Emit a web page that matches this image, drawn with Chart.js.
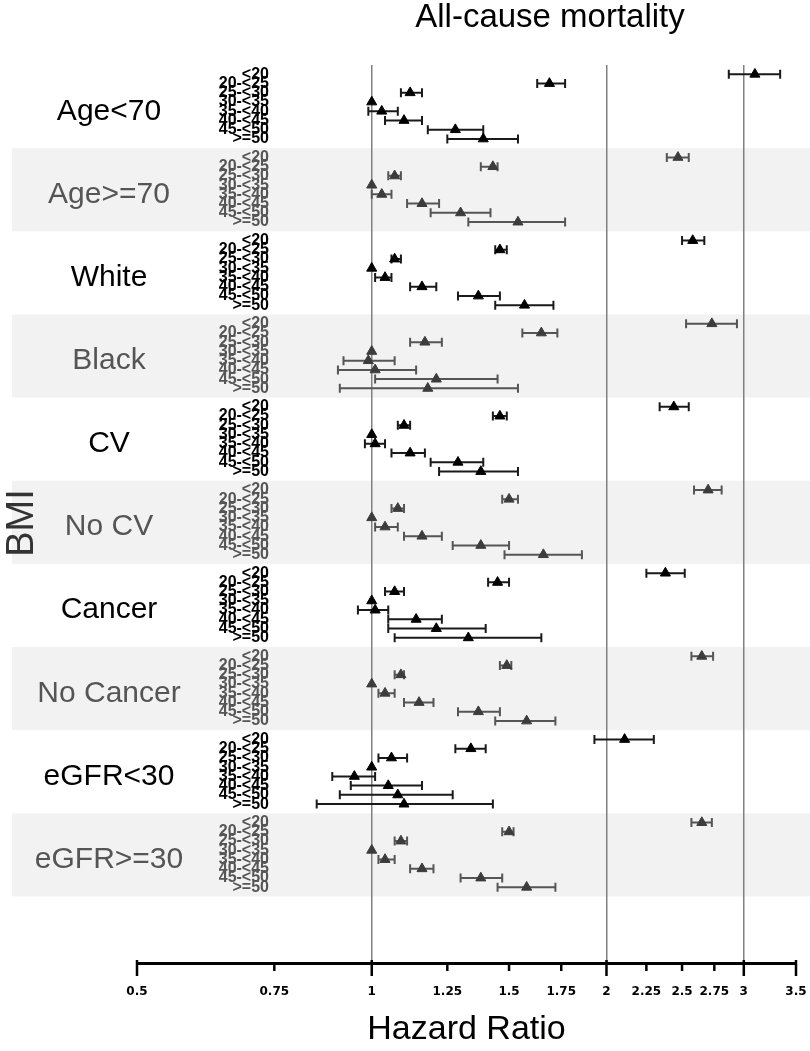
<!DOCTYPE html>
<html lang="en">
<head>
  <meta charset="UTF-8">
  <title>All-cause mortality</title>
  <script src="https://cdn.jsdelivr.net/npm/chart.js"></script>
  <style>
    body {
      margin: 0;
      background: #fff;
    }
    canvas {
      display: block;
    }
  </style>
</head>
<body>
  <canvas id="forestChart" width="810" height="1051"></canvas>
  <script>
    // subgroups (top to bottom) and BMI categories inside each subgroup
    const subgroups = ['Age<70', 'Age>=70', 'White', 'Black', 'CV', 'No CV', 'Cancer', 'No Cancer', 'eGFR<30', 'eGFR>=30'];
    const bmiCategories = ['<20', '20-<25', '25-<30', '30-<35', '35-<40', '40-<45', '45-<50', '>=50'];

    // hazard ratios, one row per subgroup (30-<35 is the reference)
    const hazardRatio = [
      [3.10, 1.69, 1.12, 1, 1.03, 1.10, 1.28, 1.39],   // Age<70
      [2.47, 1.43, 1.07, 1, 1.03, 1.16, 1.30, 1.54],   // Age>=70
      [2.58, 1.46, 1.07, 1, 1.04, 1.16, 1.37, 1.57],   // White
      [2.73, 1.65, 1.17, 1, 0.99, 1.01, 1.21, 1.18],   // Black
      [2.44, 1.46, 1.10, 1, 1.01, 1.12, 1.29, 1.38],   // CV
      [2.70, 1.50, 1.08, 1, 1.04, 1.16, 1.38, 1.66],   // No CV
      [2.38, 1.45, 1.07, 1, 1.01, 1.14, 1.21, 1.33],   // Cancer
      [2.65, 1.49, 1.09, 1, 1.04, 1.15, 1.37, 1.58],   // No Cancer
      [2.11, 1.34, 1.06, 1, 0.95, 1.05, 1.08, 1.10],   // eGFR<30
      [2.65, 1.50, 1.09, 1, 1.04, 1.16, 1.38, 1.58]    // eGFR>=30
    ];
    const ciLow = [
      [2.87, 1.63, 1.09, null, 0.99, 1.04, 1.18, 1.25],
      [2.39, 1.38, 1.05, null, 1.00, 1.11, 1.19, 1.33],
      [2.50, 1.44, 1.06, null, 1.01, 1.12, 1.29, 1.44],
      [2.53, 1.56, 1.12, null, 0.92, 0.905, 1.01, 0.91],
      [2.34, 1.43, 1.08, null, 0.98, 1.06, 1.19, 1.22],
      [2.59, 1.47, 1.06, null, 1.01, 1.10, 1.27, 1.48],
      [2.25, 1.41, 1.04, null, 0.96, 1.05, 1.05, 1.07],
      [2.57, 1.46, 1.07, null, 1.02, 1.10, 1.29, 1.44],
      [1.93, 1.28, 1.02, null, 0.89, 0.94, 0.91, 0.85],
      [2.57, 1.47, 1.07, null, 1.02, 1.12, 1.30, 1.45]
    ];
    const ciHigh = [
      [3.34, 1.77, 1.16, null, 1.08, 1.16, 1.39, 1.54],
      [2.55, 1.45, 1.09, null, 1.06, 1.22, 1.42, 1.77],
      [2.67, 1.49, 1.09, null, 1.06, 1.21, 1.46, 1.71],
      [2.94, 1.73, 1.23, null, 1.07, 1.14, 1.45, 1.54],
      [2.55, 1.49, 1.12, null, 1.04, 1.17, 1.39, 1.54],
      [2.81, 1.54, 1.10, null, 1.08, 1.23, 1.50, 1.86],
      [2.52, 1.50, 1.10, null, 1.05, 1.23, 1.40, 1.65],
      [2.74, 1.51, 1.10, null, 1.07, 1.20, 1.46, 1.72],
      [2.30, 1.40, 1.11, null, 1.01, 1.16, 1.27, 1.43],
      [2.73, 1.52, 1.11, null, 1.07, 1.20, 1.47, 1.72]
    ];

    // x axis ticks
    const tickValues = [0.5, 0.75, 1, 1.25, 1.5, 1.75, 2, 2.25, 2.5, 2.75, 3, 3.5];
    const tickLabels = ['0.5', '0.75', '1', '1.25', '1.5', '1.75', '2', '2.25', '2.5', '2.75', '3', '3.5'];
    const majorTicks = [0.5, 1, 2, 3, 3.5];
    const refLines = [1, 2, 3];

    const SLOTS = 9; // 8 rows + 1 gap per subgroup
    const rowPos = (g, i) => g * SLOTS + 1 + i;
    const isShaded = g => g % 2 === 1;

    const datasets = subgroups.map((name, g) => ({
      label: name,
      data: hazardRatio[g].map((hr, i) => ({ x: hr, y: rowPos(g, i) })),
      pointStyle: 'triangle',
      pointRadius: 5.8,
      backgroundColor: isShaded(g) ? '#3c3c3c' : '#000',
      borderColor: isShaded(g) ? '#3c3c3c' : '#000',
      borderWidth: 1
    }));

    const forestDecor = {
      id: 'forestDecor',
      beforeDraw(chart) {
        const { ctx, scales: { y } } = chart;
        ctx.save();
        ctx.fillStyle = '#f2f2f2';
        subgroups.forEach((name, g) => {
          if (!isShaded(g)) return;
          const top = y.getPixelForValue(g * SLOTS);
          const bottom = y.getPixelForValue((g + 1) * SLOTS);
          ctx.fillRect(12, top, chart.width - 12, bottom - top);
        });
        ctx.restore();
      },
      beforeDatasetsDraw(chart) {
        // confidence intervals with end caps
        const { ctx, scales: { x, y } } = chart;
        ctx.save();
        ctx.lineWidth = 2;
        subgroups.forEach((name, g) => {
          ctx.strokeStyle = isShaded(g) ? '#555' : '#1a1a1a';
          hazardRatio[g].forEach((hr, i) => {
            if (ciLow[g][i] == null) return;
            const yy = y.getPixelForValue(rowPos(g, i));
            const x1 = x.getPixelForValue(ciLow[g][i]);
            const x2 = x.getPixelForValue(ciHigh[g][i]);
            ctx.beginPath();
            ctx.moveTo(x1, yy); ctx.lineTo(x2, yy);
            ctx.moveTo(x1, yy - 4.5); ctx.lineTo(x1, yy + 4.5);
            ctx.moveTo(x2, yy - 4.5); ctx.lineTo(x2, yy + 4.5);
            ctx.stroke();
          });
        });
        ctx.restore();
      },
      afterDraw(chart) {
        const { ctx, scales: { x, y } } = chart;
        ctx.save();

        // title
        ctx.fillStyle = '#000';
        ctx.font = '33px "Liberation Sans", Arial, sans-serif';
        ctx.textAlign = 'center';
        ctx.textBaseline = 'middle';
        ctx.fillText('All-cause mortality', 550, 18);

        // y axis title
        ctx.save();
        ctx.translate(23, 523);
        ctx.rotate(-Math.PI / 2);
        ctx.fillStyle = '#333';
        ctx.font = '38px "Liberation Sans", Arial, sans-serif';
        ctx.fillText('BMI', 0, 0);
        ctx.restore();

        // subgroup names and BMI category labels
        subgroups.forEach((name, g) => {
          const color = isShaded(g) ? '#555' : '#000';
          const mid = y.getPixelForValue(g * SLOTS + SLOTS / 2);
          ctx.fillStyle = color;
          ctx.font = '30px "Liberation Sans", Arial, sans-serif';
          ctx.textAlign = 'center';
          ctx.textBaseline = 'alphabetic';
          ctx.fillText(name, 109, mid + 13);

          ctx.font = 'bold 16px "Liberation Sans", Arial, sans-serif';
          ctx.textAlign = 'right';
          ctx.textBaseline = 'middle';
          bmiCategories.forEach((cat, i) => {
            ctx.fillText(cat, 269, y.getPixelForValue(rowPos(g, i)));
          });
        });

        // tick marks under the axis
        const base = chart.chartArea.bottom;
        ctx.strokeStyle = '#000';
        ctx.lineWidth = 2.5;
        tickValues.forEach(v => {
          const px = x.getPixelForValue(v);
          const len = majorTicks.includes(v) ? 13 : 8;
          ctx.beginPath();
          ctx.moveTo(px, majorTicks.includes(v) ? base - 3 : base);
          ctx.lineTo(px, base + len);
          ctx.stroke();
        });
        ctx.restore();
      }
    };

    const ctx = document.getElementById('forestChart').getContext('2d');
    new Chart(ctx, {
      type: 'scatter',
      data: { datasets },
      options: {
        responsive: false,
        animation: false,
        devicePixelRatio: 1,
        layout: { padding: { left: 137, right: 14, top: 65, bottom: 0 } },
        plugins: {
          legend: { display: false },
          title: { display: false },
          tooltip: { enabled: false }
        },
        scales: {
          x: {
            type: 'logarithmic',
            min: 0.5,
            max: 3.5,
            afterBuildTicks: scale => {
              scale.ticks = tickValues.map(v => ({ value: v }));
            },
            afterFit: scale => {
              scale.height = 88;
              scale.paddingLeft = 0;
              scale.paddingRight = 0;
            },
            ticks: {
              autoSkip: false,
              maxRotation: 0,
              padding: 22,
              color: '#000',
              font: { family: 'DejaVu Sans', weight: 'bold', size: 12 },
              callback: v => tickLabels[tickValues.indexOf(v)]
            },
            grid: {
              drawTicks: false,
              lineWidth: 1.5,
              color: c => (c.tick && refLines.includes(c.tick.value)) ? '#808080' : 'rgba(0,0,0,0)'
            },
            border: { display: true, color: '#000', width: 3 },
            title: {
              display: true,
              text: 'Hazard Ratio',
              color: '#000',
              font: { family: 'Liberation Sans', size: 34 },
              padding: { top: 0, bottom: 1 }
            }
          },
          y: {
            type: 'linear',
            display: false,
            reverse: true,
            min: 0,
            max: 97.2
          }
        }
      },
      plugins: [forestDecor]
    });
  </script>
</body>
</html>
